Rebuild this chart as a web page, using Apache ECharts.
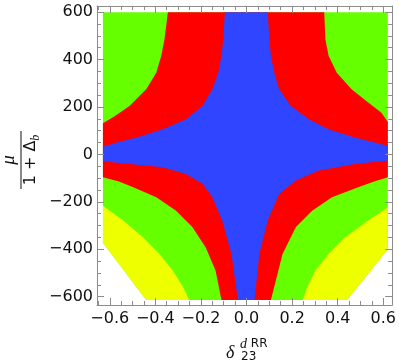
<!DOCTYPE html>
<html>
<head>
<meta charset="utf-8">
<script src="https://cdn.jsdelivr.net/npm/echarts@6/dist/echarts.min.js"></script>
<style>
    html, body { margin: 0; padding: 0; background: #fff; }
    #regionChart { width: 399px; height: 364px; }
</style>
</head>
<body>
<div id="regionChart"></div>
<script>
// tick values
var xMajorTicks = [-0.6, -0.4, -0.2, 0, 0.2, 0.4, 0.6];
var xMinorTicks = [-0.65, -0.55, -0.5, -0.45, -0.35, -0.3, -0.25, -0.15, -0.1, -0.05,
    0.05, 0.1, 0.15, 0.25, 0.3, 0.35, 0.45, 0.5, 0.55];
var yMajorTicks = [-600, -400, -200, 0, 200, 400, 600];
var yMinorTicks = [-550, -500, -450, -350, -300, -250, -150, -100, -50,
    50, 100, 150, 250, 300, 350, 450, 500, 550];

// region outlines [delta, mu/(1+Delta_b)]
var greenRegion = [
    [-0.63, 600], [0.62, 600], [0.62, -400], [0.441, -614], [-0.44, -614], [-0.63, -372]
];
var yellowLeft = [
    [-0.63, -216], [-0.541, -279], [-0.454, -349], [-0.382, -420], [-0.324, -490],
    [-0.278, -560], [-0.252, -614], [-0.44, -614], [-0.63, -372]
];
var yellowRight = [
    [0.62, -223], [0.534, -279], [0.433, -349], [0.36, -420], [0.302, -490],
    [0.266, -560], [0.247, -614], [0.441, -614], [0.62, -400]
];
var redRegion = [
    [-0.63, 132], [-0.577, 162], [-0.512, 205], [-0.44, 275], [-0.396, 345], [-0.374, 416],
    [-0.36, 486], [-0.345, 600],
    [0.341, 600], [0.346, 486], [0.36, 416], [0.396, 345], [0.461, 275], [0.534, 219],
    [0.592, 176], [0.62, 137],
    [0.62, -96], [0.56, -114], [0.49, -138], [0.375, -181], [0.288, -237], [0.216, -307],
    [0.158, -420], [0.107, -614],
    [-0.11, -614], [-0.136, -490], [-0.179, -392], [-0.237, -307], [-0.309, -237],
    [-0.396, -181], [-0.497, -138], [-0.56, -114], [-0.63, -96]
];
var blueRegion = [
    [-0.63, 32], [-0.57, 50], [-0.483, 71], [-0.367, 106], [-0.266, 148], [-0.193, 205],
    [-0.15, 275], [-0.124, 345], [-0.11, 416], [-0.102, 486], [-0.095, 600],
    [0.093, 600], [0.1, 486], [0.107, 416], [0.122, 345], [0.143, 275], [0.194, 205],
    [0.273, 148], [0.36, 106], [0.476, 71], [0.563, 50], [0.62, 36],
    [0.62, -26], [0.476, -40], [0.317, -68], [0.216, -110], [0.143, -167], [0.093, -279],
    [0.056, -420], [0.035, -614],
    [-0.037, -614], [-0.046, -560], [-0.066, -420], [-0.107, -279], [-0.15, -181],
    [-0.193, -124], [-0.266, -82], [-0.367, -54], [-0.512, -40], [-0.63, -29]
];

var frameColor = '#8c8c8c';
var labelFont = 'DejaVu Sans';

var minusFmt = function (digits) {
    return function (v) {
        var s = Math.abs(v).toFixed(digits);
        return v < 0 ? '\u2212' + s : s;
    };
};

var polygonSeries = function (name, points, color) {
    return {
        name: name,
        type: 'custom',
        silent: true,
        data: points,
        renderItem: function (params, api) {
            if (params.dataIndex !== 0) {
                return null;
            }
            var pts = points.map(function (p) { return api.coord(p); });
            return {
                type: 'polygon',
                shape: { points: pts },
                style: { fill: color }
            };
        }
    };
};

var xAxisOf = function (pos, ticks, len, withLabel) {
    return {
        type: 'value',
        position: pos,
        min: -0.656,
        max: 0.639,
        z: 5,
        axisLine: { show: len > 5, onZero: false, lineStyle: { color: frameColor, width: 1 } },
        axisTick: { show: true, inside: true, length: len, customValues: ticks,
            lineStyle: { color: frameColor } },
        axisLabel: withLabel ? {
            show: true, customValues: ticks, formatter: minusFmt(1), margin: 6,
            color: '#111', fontSize: 16, fontFamily: labelFont
        } : { show: false },
        splitLine: { show: false }
    };
};

var yAxisOf = function (pos, ticks, len, withLabel) {
    return {
        type: 'value',
        position: pos,
        min: -635,
        max: 626,
        z: 5,
        axisLine: { show: len > 5, onZero: false, lineStyle: { color: frameColor, width: 1 } },
        axisTick: { show: true, inside: true, length: len, customValues: ticks,
            lineStyle: { color: frameColor } },
        axisLabel: withLabel ? {
            show: true, customValues: ticks, formatter: minusFmt(0), margin: 4,
            color: '#111', fontSize: 16, fontFamily: labelFont
        } : { show: false },
        splitLine: { show: false }
    };
};

var myChart = echarts.init(document.getElementById('regionChart'));
var option = {
    animation: false,
    grid: { left: 97, right: 3.5, top: 6, bottom: 59 },
    xAxis: [
        xAxisOf('bottom', xMajorTicks, 7, true),
        xAxisOf('bottom', xMinorTicks, 4, false),
        xAxisOf('top', xMajorTicks, 7, false),
        xAxisOf('top', xMinorTicks, 4, false)
    ],
    yAxis: [
        yAxisOf('left', yMajorTicks, 7, true),
        yAxisOf('left', yMinorTicks, 4, false),
        yAxisOf('right', yMajorTicks, 7, false),
        yAxisOf('right', yMinorTicks, 4, false)
    ],
    graphic: [
        // x axis title: delta_23^{d RR}
        { type: 'text', x: 226, y: 344, style: { text: 'δ', fill: '#111',
            font: 'italic 18px "Liberation Serif"' } },
        { type: 'text', x: 240, y: 337, style: {
            text: '{i|d}{r| RR}', fill: '#111',
            rich: {
                i: { fontFamily: 'Liberation Serif', fontStyle: 'italic', fontSize: 14 },
                r: { fontFamily: labelFont, fontSize: 12 }
            } } },
        { type: 'text', x: 241, y: 351, style: { text: '23', fill: '#111',
            font: '12px "DejaVu Sans"' } },
        // y axis title: mu / (1 + Delta_b), rotated
        {
            type: 'group', x: 21, y: 160, rotation: Math.PI / 2,
            children: [
                { type: 'text', x: 0, y: -12, style: { text: 'μ', fill: '#111',
                    font: 'italic 19px "Liberation Serif"', textAlign: 'center',
                    textVerticalAlign: 'middle' } },
                { type: 'line', shape: { x1: -29, y1: 0, x2: 29, y2: 0 },
                    style: { stroke: '#111', lineWidth: 1 } },
                { type: 'text', x: 0, y: 10, style: {
                    text: '{m|1 + Δ}{s|b}', fill: '#111', textAlign: 'center',
                    textVerticalAlign: 'middle',
                    rich: {
                        m: { fontFamily: labelFont, fontSize: 16, lineHeight: 22,
                            verticalAlign: 'middle' },
                        s: { fontFamily: 'Liberation Serif', fontStyle: 'italic',
                            fontSize: 12, lineHeight: 12, verticalAlign: 'bottom' }
                    } } }
            ]
        }
    ],
    series: [
        polygonSeries('green', greenRegion, '#66ff00'),
        polygonSeries('yellowL', yellowLeft, '#eeff00'),
        polygonSeries('yellowR', yellowRight, '#eeff00'),
        polygonSeries('red', redRegion, '#ff0000'),
        polygonSeries('blue', blueRegion, '#2f45ff')
    ]
};
myChart.setOption(option);
window.onresize = myChart.resize;
</script>
</body>
</html>
